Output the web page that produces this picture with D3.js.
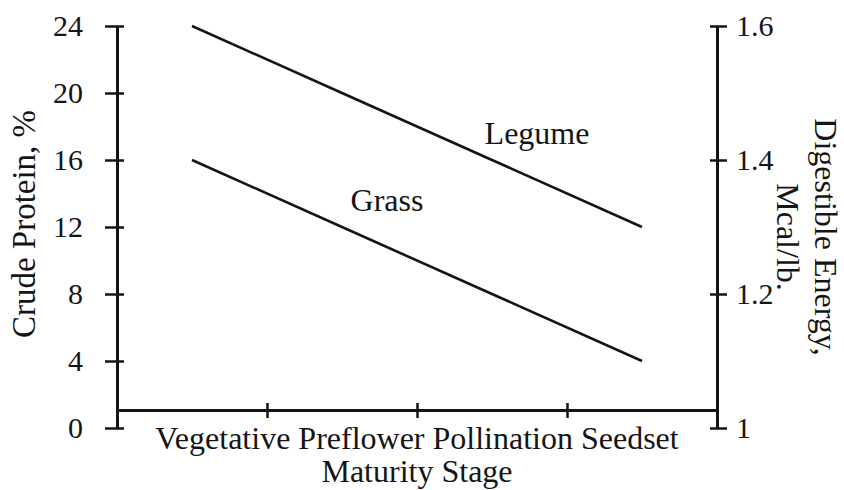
<!DOCTYPE html>
<html>
<head>
<meta charset="utf-8">
<script src="https://cdn.jsdelivr.net/npm/d3@7"></script>
<style>
  body { margin: 0; background: #fff; }
  svg text { font-family: "Liberation Serif", "Times New Roman", serif; fill: #151515; }
</style>
</head>
<body>
<script>
const width = 844;
const height = 490;

// data
const stages = ["Vegetative", "Preflower", "Pollination", "Seedset"];
const legume = [24, 20, 16, 12];
const grass = [16, 12, 8, 4];
const proteinTicks = [0, 4, 8, 12, 16, 20, 24];
const energyTicks = [1, 1.2, 1.4, 1.6];
const seriesNames = ["Legume", "Grass"];

const margin = {
    left: 117,
    right: 127,
    top: 26,
    bottom: 62
};

const ink = "#151515";

let svg = d3.select("body").append("svg")
    .attr("width", width)
    .attr("height", height);

let xScale = d3.scaleBand()
    .domain(stages)
    .range([margin.left, width - margin.right])
    .padding(0);

// index scale for band boundaries
let xIdx = d3.scaleLinear()
    .domain([0, stages.length])
    .range([margin.left, width - margin.right]);

let yScale = d3.scaleLinear()
    .domain([0, 24])
    .range([height - margin.bottom, margin.top]);

let yRight = d3.scaleLinear()
    .domain([1, 1.6])
    .range([height - margin.bottom, margin.top]);

const xAxisY = yScale(0) - 18;

// left axis
let yAxis = svg.append("g")
    .attr("transform", `translate(${margin.left},0)`)
    .call(d3.axisLeft(yScale).tickValues(proteinTicks).tickSize(12).tickSizeOuter(0).tickPadding(22));

yAxis.selectAll(".tick line").attr("x1", 7);

// right axis
let yAxis2 = svg.append("g")
    .attr("transform", `translate(${width - margin.right},0)`)
    .call(d3.axisRight(yRight).tickValues(energyTicks).tickSize(10).tickSizeOuter(0).tickPadding(9)
        .tickFormat(d => d === 1 ? "1" : d3.format(".1f")(d)));

yAxis2.selectAll(".tick line").attr("x1", -7);

// bottom axis (ticks at stage boundaries)
let xAxis = svg.append("g")
    .attr("transform", `translate(0,${xAxisY})`)
    .call(d3.axisBottom(xIdx).tickValues(d3.range(1, stages.length)).tickSize(8).tickSizeOuter(0).tickFormat(""));

xAxis.selectAll(".tick line").attr("y1", -7);

svg.selectAll(".domain")
    .attr("stroke", ink)
    .attr("stroke-width", 3);

svg.selectAll(".tick line")
    .attr("stroke", ink)
    .attr("stroke-width", 2.5);

yAxis.selectAll(".tick text").style("font-size", "30px").attr("fill", ink);
yAxis2.selectAll(".tick text").style("font-size", "30px").attr("fill", ink);

// stage names on one line, then axis title
let midX = (margin.left + width - margin.right) / 2;

svg.append("text")
    .attr("x", midX)
    .attr("y", yScale(0) + 21)
    .attr("text-anchor", "middle")
    .style("font-size", "32px")
    .text(stages.join(" "));

svg.append("text")
    .attr("x", midX)
    .attr("y", yScale(0) + 54)
    .attr("text-anchor", "middle")
    .style("font-size", "32px")
    .text("Maturity Stage");

// left title
svg.append("text")
    .attr("text-anchor", "middle")
    .attr("transform", `translate(35, 224) rotate(-90)`)
    .style("font-size", "33px")
    .text("Crude Protein, %");

// right title, two lines
let rightTitle = svg.append("text")
    .attr("text-anchor", "middle")
    .attr("transform", `translate(815, 237) rotate(90)`)
    .style("font-size", "32px");

rightTitle.append("tspan").attr("x", 0).attr("dy", 0).text("Digestible Energy,");
rightTitle.append("tspan").attr("x", 0).attr("dy", 38).text("Mcal/lb.");

// lines
let line = d3.line()
    .x((d, i) => xScale(stages[i]) + xScale.bandwidth() / 2)
    .y(d => yScale(d));

let series = [legume, grass];

svg.selectAll(".series")
    .data(series)
    .enter()
    .append("path")
    .attr("class", "series")
    .attr("d", line)
    .attr("fill", "none")
    .attr("stroke", ink)
    .attr("stroke-width", 2.6);

// series labels sit above their line
const labelPos = [2.3, 1.3];
let idxToX = d3.scaleLinear()
    .domain([0, stages.length - 1])
    .range([xScale(stages[0]) + xScale.bandwidth() / 2, xScale(stages[stages.length - 1]) + xScale.bandwidth() / 2]);

svg.selectAll(".label")
    .data(seriesNames)
    .enter()
    .append("text")
    .attr("class", "label")
    .attr("x", (d, i) => idxToX(labelPos[i]))
    .attr("y", (d, i) => {
        let s = series[i];
        let v = s[0] + (s[s.length - 1] - s[0]) * labelPos[i] / (s.length - 1);
        return yScale(v) - 36;
    })
    .attr("text-anchor", "middle")
    .style("font-size", "32px")
    .text(d => d);
</script>
</body>
</html>
